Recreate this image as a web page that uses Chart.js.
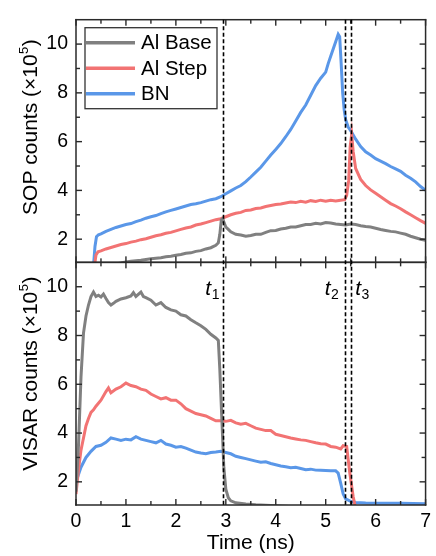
<!DOCTYPE html>
<html><head><meta charset="utf-8">
<script src="https://cdn.jsdelivr.net/npm/chart.js@4"></script>
<style>html,body{margin:0;padding:0;background:#fff;}canvas{display:block;}</style>
</head><body>
<canvas id="c" width="436" height="556"></canvas>
<script>
// ---- data (time in ns, counts in 1e5) ----
const seriesNames = ['Al Base', 'Al Step', 'BN'];
const sopBase = [[0.7,0.95],[0.8,0.98],[0.9,1.02],[1.0,1.07],[1.1,1.1],[1.2,1.12],[1.3,1.14],[1.4,1.17],[1.5,1.2],[1.6,1.22],[1.7,1.24],[1.8,1.28],[1.9,1.3],[2.0,1.34],[2.1,1.37],[2.2,1.42],[2.3,1.44],[2.4,1.5],[2.5,1.53],[2.6,1.6],[2.7,1.65],[2.8,1.75],[2.85,1.85],[2.88,2.2],[2.91,2.8],[2.94,2.85],[2.97,2.65],[3.0,2.5],[3.05,2.4],[3.1,2.3],[3.2,2.2],[3.3,2.17],[3.4,2.12],[3.5,2.15],[3.6,2.2],[3.7,2.2],[3.8,2.28],[3.9,2.35],[4.0,2.36],[4.1,2.42],[4.2,2.45],[4.3,2.5],[4.4,2.5],[4.5,2.55],[4.6,2.6],[4.7,2.6],[4.8,2.65],[4.9,2.62],[5.0,2.68],[5.1,2.66],[5.2,2.62],[5.3,2.6],[5.4,2.58],[5.5,2.62],[5.6,2.6],[5.7,2.55],[5.8,2.52],[5.9,2.5],[6.0,2.45],[6.1,2.4],[6.2,2.36],[6.3,2.32],[6.4,2.3],[6.5,2.25],[6.6,2.2],[6.7,2.12],[6.8,2.06],[6.9,2.0],[7.0,1.95]];
const sopStep = [[0.37,0.9],[0.4,1.35],[0.44,1.48],[0.5,1.52],[0.6,1.6],[0.7,1.66],[0.8,1.72],[0.9,1.78],[1.0,1.82],[1.1,1.88],[1.2,1.92],[1.3,1.98],[1.4,2.02],[1.5,2.08],[1.6,2.14],[1.7,2.18],[1.8,2.24],[1.9,2.28],[2.0,2.34],[2.1,2.4],[2.2,2.46],[2.3,2.5],[2.4,2.58],[2.5,2.62],[2.6,2.68],[2.7,2.74],[2.8,2.8],[2.9,2.84],[3.0,2.92],[3.1,3.0],[3.2,3.06],[3.3,3.1],[3.4,3.18],[3.5,3.2],[3.6,3.26],[3.7,3.28],[3.8,3.34],[3.9,3.38],[4.0,3.42],[4.1,3.44],[4.2,3.48],[4.3,3.52],[4.4,3.5],[4.5,3.55],[4.6,3.52],[4.7,3.58],[4.8,3.55],[4.9,3.6],[5.0,3.56],[5.1,3.6],[5.2,3.57],[5.3,3.6],[5.38,3.62],[5.42,3.8],[5.46,4.4],[5.49,5.8],[5.52,6.3],[5.55,5.6],[5.6,4.9],[5.7,4.45],[5.8,4.2],[5.9,4.02],[6.0,3.88],[6.1,3.74],[6.2,3.6],[6.3,3.46],[6.4,3.36],[6.5,3.25],[6.6,3.12],[6.7,3.0],[6.8,2.88],[6.9,2.76],[7.0,2.65]];
const sopBN = [[0.35,0.9],[0.38,1.7],[0.41,2.1],[0.45,2.18],[0.5,2.22],[0.6,2.32],[0.7,2.4],[0.8,2.48],[0.9,2.54],[1.0,2.6],[1.1,2.64],[1.2,2.72],[1.3,2.78],[1.4,2.86],[1.5,2.92],[1.6,2.97],[1.7,3.05],[1.8,3.12],[1.9,3.18],[2.0,3.24],[2.1,3.3],[2.2,3.36],[2.3,3.42],[2.4,3.45],[2.5,3.5],[2.6,3.56],[2.7,3.62],[2.8,3.66],[2.9,3.74],[3.0,3.86],[3.1,3.98],[3.2,4.1],[3.3,4.2],[3.4,4.36],[3.5,4.55],[3.6,4.75],[3.7,4.95],[3.8,5.2],[3.9,5.45],[4.0,5.68],[4.1,5.92],[4.2,6.2],[4.3,6.5],[4.4,6.85],[4.5,7.2],[4.6,7.5],[4.7,7.9],[4.8,8.3],[4.9,8.6],[5.0,8.85],[5.05,9.2],[5.1,9.5],[5.15,9.8],[5.2,10.1],[5.25,10.4],[5.28,10.3],[5.31,9.2],[5.34,8.0],[5.37,7.3],[5.4,6.9],[5.45,6.6],[5.5,6.45],[5.6,6.1],[5.7,5.8],[5.8,5.58],[5.9,5.45],[6.0,5.3],[6.1,5.2],[6.2,5.1],[6.3,4.98],[6.4,4.88],[6.5,4.78],[6.6,4.62],[6.7,4.5],[6.8,4.35],[6.9,4.16],[7.0,4.0]];
const visBase = [[0,1.6],[0.05,3.5],[0.1,6.3],[0.15,8.1],[0.2,8.8],[0.25,9.25],[0.3,9.6],[0.35,9.78],[0.4,9.6],[0.45,9.65],[0.5,9.58],[0.55,9.7],[0.6,9.52],[0.65,9.35],[0.7,9.25],[0.75,9.32],[0.8,9.4],[0.9,9.5],[1.0,9.55],[1.1,9.62],[1.15,9.76],[1.2,9.6],[1.3,9.78],[1.35,9.6],[1.4,9.55],[1.5,9.45],[1.6,9.25],[1.7,9.35],[1.8,9.15],[1.9,9.05],[2.0,9.0],[2.1,8.85],[2.2,8.8],[2.3,8.65],[2.4,8.52],[2.5,8.4],[2.6,8.25],[2.7,8.05],[2.8,7.9],[2.85,7.8],[2.88,6.6],[2.92,4.6],[2.96,2.6],[3.0,1.7],[3.05,1.35],[3.1,1.22],[3.2,1.14],[3.4,1.09],[3.6,1.06],[3.8,1.04],[4.0,1.02],[4.5,0.96],[5.0,0.9]];
const visStep = [[0,1.5],[0.05,2.5],[0.1,3.3],[0.15,3.8],[0.2,4.3],[0.25,4.6],[0.3,4.85],[0.35,4.95],[0.4,5.1],[0.5,5.35],[0.6,5.7],[0.65,5.85],[0.7,5.65],[0.8,5.8],[0.9,5.9],[1.0,6.05],[1.1,5.95],[1.2,5.9],[1.3,5.8],[1.4,5.75],[1.5,5.6],[1.6,5.5],[1.7,5.4],[1.8,5.45],[1.9,5.35],[2.0,5.35],[2.1,5.2],[2.2,5.0],[2.3,4.9],[2.4,4.8],[2.5,4.75],[2.6,4.7],[2.7,4.6],[2.8,4.5],[2.9,4.5],[3.0,4.48],[3.1,4.52],[3.2,4.42],[3.3,4.36],[3.4,4.4],[3.5,4.3],[3.6,4.2],[3.7,4.15],[3.8,4.1],[3.9,4.1],[4.0,3.95],[4.1,3.9],[4.2,3.85],[4.3,3.8],[4.4,3.76],[4.5,3.72],[4.6,3.7],[4.7,3.65],[4.8,3.6],[4.9,3.56],[5.0,3.55],[5.1,3.45],[5.2,3.42],[5.3,3.35],[5.35,3.48],[5.42,3.45],[5.48,2.4],[5.55,1.4],[5.6,0.9]];
const visBN = [[0,2.0],[0.05,2.3],[0.1,2.6],[0.2,3.0],[0.3,3.25],[0.4,3.45],[0.5,3.5],[0.6,3.62],[0.7,3.8],[0.8,3.75],[0.9,3.7],[1.0,3.75],[1.1,3.72],[1.2,3.85],[1.3,3.75],[1.4,3.7],[1.5,3.65],[1.6,3.6],[1.7,3.7],[1.8,3.55],[1.9,3.5],[2.0,3.42],[2.1,3.45],[2.2,3.38],[2.3,3.3],[2.4,3.22],[2.5,3.18],[2.6,3.15],[2.7,3.2],[2.8,3.22],[2.9,3.25],[3.0,3.2],[3.1,3.15],[3.2,3.05],[3.3,3.0],[3.4,2.95],[3.5,2.9],[3.6,2.85],[3.7,2.8],[3.8,2.82],[3.9,2.75],[4.0,2.7],[4.1,2.65],[4.2,2.62],[4.3,2.58],[4.4,2.6],[4.5,2.55],[4.6,2.5],[4.7,2.52],[4.8,2.48],[4.9,2.47],[5.0,2.46],[5.1,2.45],[5.2,2.45],[5.25,2.36],[5.3,1.95],[5.35,1.5],[5.4,1.3],[5.5,1.2],[5.6,1.15],[5.8,1.13],[6.0,1.12],[6.5,1.12],[7.0,1.1]];
const markerTimes = [2.95, 5.38, 5.51];
const markerLabels = ['1', '2', '3'];
const xTickVals = [0, 1, 2, 3, 4, 5, 6, 7];
const yTickVals = [2, 4, 6, 8, 10];

const colors = ['#808080', '#f27373', '#5a97e8'];
const FONT = "'Liberation Sans', Arial, sans-serif";
const pts = a => a.map(p => ({x: p[0], y: p[1]}));

function ds(label, arr, color, yId) {
  return {label, data: pts(arr), borderColor: color, backgroundColor: color,
    borderWidth: 3, pointRadius: 0, tension: 0, yAxisID: yId, xAxisID: 'x'};
}

const deco = {
  id: 'deco',
  afterDraw(chart) {
    const ctx = chart.ctx;
    const xs = chart.scales.x, yt = chart.scales.ySop, yb = chart.scales.yVis;
    const top = Math.min(yt.top, yb.top), bottom = Math.max(yt.bottom, yb.bottom);
    const L = chart.chartArea.left, R = chart.chartArea.right;
    ctx.save();
    ctx.setLineDash([]); ctx.lineDashOffset = 0; ctx.globalAlpha = 1;
    ctx.globalCompositeOperation = 'source-over';
    const tickLine = (x1, y1, x2, y2) => { ctx.beginPath(); ctx.moveTo(x1, y1); ctx.lineTo(x2, y2); ctx.stroke(); };
    // frames and inward ticks (filled rects)
    ctx.fillStyle = '#2a2a2a';
    const lw = 1.4;
    for (const sc of [yt, yb]) {
      const T = sc.top, B = sc.bottom;
      for (let k = 0; k <= 14; k++) {
        const px = xs.getPixelForValue(k / 2);
        const len = k % 2 === 0 ? 6 : 4;
        ctx.fillRect(px - lw / 2, T, lw, len);
        ctx.fillRect(px - lw / 2, B - len, lw, len);
      }
      for (let v = 2; v <= 10; v += 1) {
        const py = sc.getPixelForValue(v);
        const len = v % 2 === 0 ? 6 : 4;
        ctx.fillRect(L, py - lw / 2, len, lw);
        ctx.fillRect(R - len, py - lw / 2, len, lw);
      }
      ctx.fillRect(L - 0.75, T - 0.75, R - L + 1.5, 1.5);
      ctx.fillRect(L - 0.75, B - 0.75, R - L + 1.5, 1.5);
      ctx.fillRect(L - 0.75, T - 0.75, 1.5, B - T + 1.5);
      ctx.fillRect(R - 0.75, T - 0.75, 1.5, B - T + 1.5);
    }
    // dashed markers
    ctx.strokeStyle = '#000'; ctx.lineWidth = 1.6; ctx.setLineDash([4, 2.5]);
    markerTimes.forEach(t => {
      const px = Math.round(xs.getPixelForValue(t)) + 0.5;
      tickLine(px, top, px, bottom);
    });
    ctx.setLineDash([]);
    // marker labels
    ctx.fillStyle = '#000'; ctx.textBaseline = 'alphabetic'; ctx.textAlign = 'left';
    const labOff = [-18, -20, 4];
    markerTimes.forEach((t, i) => {
      const px = xs.getPixelForValue(t) + labOff[i];
      ctx.font = 'italic 21px ' + FONT;
      ctx.fillText('t', px, yb.top + 33);
      const w = ctx.measureText('t').width;
      ctx.font = '14px ' + FONT;
      ctx.fillText(markerLabels[i], px + w + 0.5, yb.top + 36.5);
    });
    // legend
    const lx = L + 9, ly = yt.top + 8, lwid = 132, lh = 81;
    ctx.fillStyle = '#fff'; ctx.fillRect(lx, ly, lwid, lh);
    ctx.strokeStyle = '#333'; ctx.lineWidth = 1.3; ctx.strokeRect(lx, ly, lwid, lh);
    ctx.font = '20.5px ' + FONT; ctx.textBaseline = 'middle';
    seriesNames.forEach((n, i) => {
      const yy = ly + 15 + i * 25.5;
      ctx.strokeStyle = colors[i]; ctx.lineWidth = 3.5;
      tickLine(lx + 1, yy, lx + 50, yy);
      ctx.fillStyle = '#000';
      ctx.fillText(n, lx + 56, yy + 1);
    });
    // y axis titles with superscript
    const yTitle = (main, sc, shift) => {
      ctx.save();
      const cy = (sc.top + sc.bottom) / 2 + shift;
      ctx.translate(31, cy);
      ctx.rotate(-Math.PI / 2);
      ctx.fillStyle = '#000'; ctx.textBaseline = 'middle'; ctx.textAlign = 'left';
      ctx.font = '21px ' + FONT;
      const w1 = ctx.measureText(main).width;
      const w3 = ctx.measureText(')').width;
      ctx.font = '13px ' + FONT;
      const w2 = ctx.measureText('5').width;
      const total = w1 + w2 + w3 + 1;
      let x = -total / 2;
      ctx.font = '21px ' + FONT; ctx.fillText(main, x, 0); x += w1 + 0.5;
      ctx.font = '13px ' + FONT; ctx.fillText('5', x, -7); x += w2 + 0.5;
      ctx.font = '21px ' + FONT; ctx.fillText(')', x, 0);
      ctx.restore();
    };
    yTitle('SOP counts (\u00d710', yt, -14);
    yTitle('VISAR counts (\u00d710', yb, -10);
    ctx.restore();
  }
};

const yAxis = () => ({
  type: 'linear', position: 'left', stack: 'panels', stackWeight: 1,
  min: 1.05, max: 11,
  grid: {display: false, drawTicks: false}, border: {display: false},
  ticks: {color: '#000', font: {family: FONT, size: 19.5}, padding: 8},
  afterBuildTicks: s => { s.ticks = yTickVals.map(v => ({value: v})); },
  afterFit: s => { s.width = 76; }
});

new Chart(document.getElementById('c'), {
  type: 'line',
  data: {datasets: [
    ds(seriesNames[0], sopBase, colors[0], 'ySop'),
    ds(seriesNames[1], sopStep, colors[1], 'ySop'),
    ds(seriesNames[2], sopBN, colors[2], 'ySop'),
    ds(seriesNames[0], visBase, colors[0], 'yVis'),
    ds(seriesNames[1], visStep, colors[1], 'yVis'),
    ds(seriesNames[2], visBN, colors[2], 'yVis')
  ]},
  options: {
    responsive: false, animation: false, devicePixelRatio: 1,
    layout: {padding: {left: 0, right: 10, top: 8, bottom: 0}},
    plugins: {legend: {display: false}, tooltip: {enabled: false}},
    scales: {
      x: {type: 'linear', min: 0, max: 7, position: 'bottom',
        grid: {display: false, drawTicks: false}, border: {display: false},
        ticks: {color: '#000', font: {family: FONT, size: 19.5}, padding: 5, maxRotation: 0},
        afterBuildTicks: s => { s.ticks = xTickVals.map(v => ({value: v})); },
        title: {display: true, text: 'Time (ns)', color: '#000', font: {family: FONT, size: 21}, padding: {top: 0, bottom: 0}},
        afterFit: s => { s.height = 51; }
      },
      yVis: yAxis(),
      ySop: yAxis()
    }
  },
  plugins: [deco]
});
</script>
</body></html>
